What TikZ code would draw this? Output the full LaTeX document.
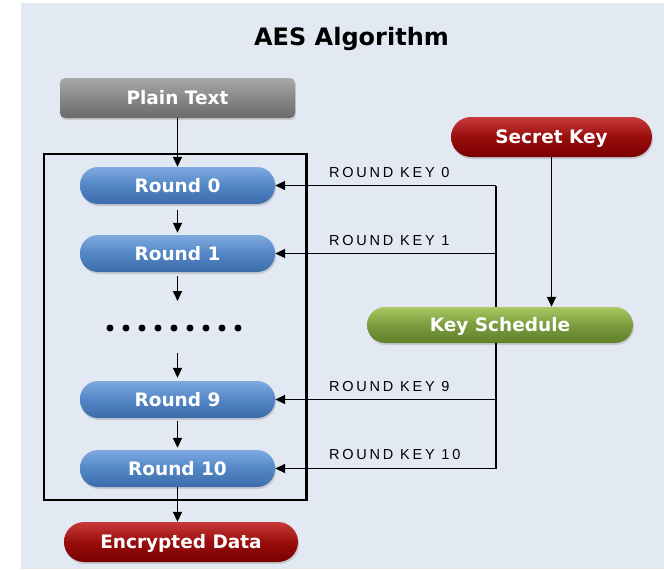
\documentclass[tikz,border=0pt]{standalone}
\usepackage{fontspec}
\setmainfont{DejaVu Sans}
\newfontfamily\lblfont[LetterSpace=19]{Liberation Sans}
\usetikzlibrary{arrows.meta,shadows}
\definecolor{bgcol}{HTML}{E3E9F3}
\definecolor{blueT}{HTML}{7FAAE0}
\definecolor{blueM}{HTML}{5386C6}
\definecolor{blueB}{HTML}{3C6CAA}
\definecolor{grayT}{HTML}{A8A8A8}
\definecolor{grayM}{HTML}{888888}
\definecolor{grayB}{HTML}{6A6A6A}
\definecolor{redT}{HTML}{C83A3A}
\definecolor{redM}{HTML}{9A0D0D}
\definecolor{redB}{HTML}{780000}
\definecolor{greenT}{HTML}{A8C862}
\definecolor{greenM}{HTML}{7B9C3E}
\definecolor{greenB}{HTML}{5F7F2B}
\begin{document}
\begin{tikzpicture}[x=1pt,y=-1pt,
  pill/.style={rectangle, rounded corners=18pt, minimum width=195pt, minimum height=37pt,
    inner sep=0pt, text=white, text height=13.5pt, text depth=0pt,
    font=\fontsize{18.5}{20}\selectfont\bfseries,
    drop shadow={shadow xshift=1pt,shadow yshift=-2pt,opacity=0.3}},
  bluepill/.style={pill, top color=blueT, bottom color=blueB, middle color=blueM},
  redpill/.style={pill, rounded corners=20pt, minimum height=40pt, top color=redT, bottom color=redB, middle color=redM},
  greenpill/.style={pill, rounded corners=18pt, minimum height=36pt, top color=greenT, bottom color=greenB, middle color=greenM},
  graybox/.style={pill, rounded corners=5pt, minimum height=40pt, minimum width=235pt, top color=grayT, bottom color=grayB, middle color=grayM},
  conn/.style={line width=1.7pt, -{Triangle[length=10pt,width=9pt]}},
  plainline/.style={line width=1.7pt},
  keylbl/.style={font=\lblfont\fontsize{14.5}{16}\selectfont, anchor=base west, inner sep=0pt, text=black},
  dotmark/.style={circle, fill=black, inner sep=0pt, minimum size=7pt},
]
\useasboundingbox (0,0) rectangle (664,570);
\fill[bgcol] (21,3) rectangle (664,569);

\node[anchor=base, font=\fontsize{24}{28}\selectfont\bfseries] (title) at (351.5,45) {AES Algorithm};

% frame
\draw[line width=2.2pt] (44,154) rectangle (306.5,500);

% nodes
\node[graybox] (plain) at (177.5,98) {Plain Text};
\node[bluepill] (r0) at (177.5,185.5) {Round 0};
\node[bluepill] (r1) at (177.5,253.5) {Round 1};
\node[bluepill] (r9) at (177.5,399.5) {Round 9};
\node[bluepill] (r10) at (177.5,468.5) {Round 10};
\node[redpill, minimum width=234pt] (enc) at (181,542) {Encrypted Data};
\node[redpill, minimum width=201pt] (sk) at (551.5,137) {Secret Key};
\node[greenpill, minimum width=266pt] (ks) at (500,325) {Key Schedule};

% dots
\foreach \i in {0,...,8} {
  \node[dotmark] (dot\i) at (110+16*\i,328) {};
}

% coordinates
\coordinate (d1) at (177.5,301);
\coordinate (d2) at (177.5,353);
\coordinate (k0) at (496,185.5);
\coordinate (k1) at (496,253.5);
\coordinate (k9) at (496,399.5);
\coordinate (k10) at (496,468.5);

% main chain
\draw[conn] (plain.south) -- (r0.north);
\draw[conn, shorten <=6pt, shorten >=2pt] (r0.south) -- (r1.north);
\draw[conn, shorten <=4pt] (r1.south) -- (d1);
\draw[conn, shorten >=3pt] (d2) -- (r9.north);
\draw[conn, shorten <=3pt, shorten >=2pt] (r9.south) -- (r10.north);
\draw[conn] (r10.south) -- (r10.south |- enc.north);

% key path
\draw[conn] (sk.south) -- (sk.south |- ks.north);
\draw[plainline] (k0) -- (k0 |- ks.north);
\draw[plainline] (k0 |- ks.south) -- (k10);
\draw[conn] (k0) -- (r0.east);
\draw[conn] (k1) -- (r1.east);
\draw[conn] (k9) -- (r9.east);
\draw[conn] (k10) -- (r10.east);

% labels
\node[keylbl] (l0) at (329,177) {ROUND KEY 0};
\node[keylbl] (l1) at (329,245.5) {ROUND KEY 1};
\node[keylbl] (l9) at (329,391) {ROUND KEY 9};
\node[keylbl] (l10) at (329,459.5) {ROUND KEY 10};
\end{tikzpicture}
\end{document}
